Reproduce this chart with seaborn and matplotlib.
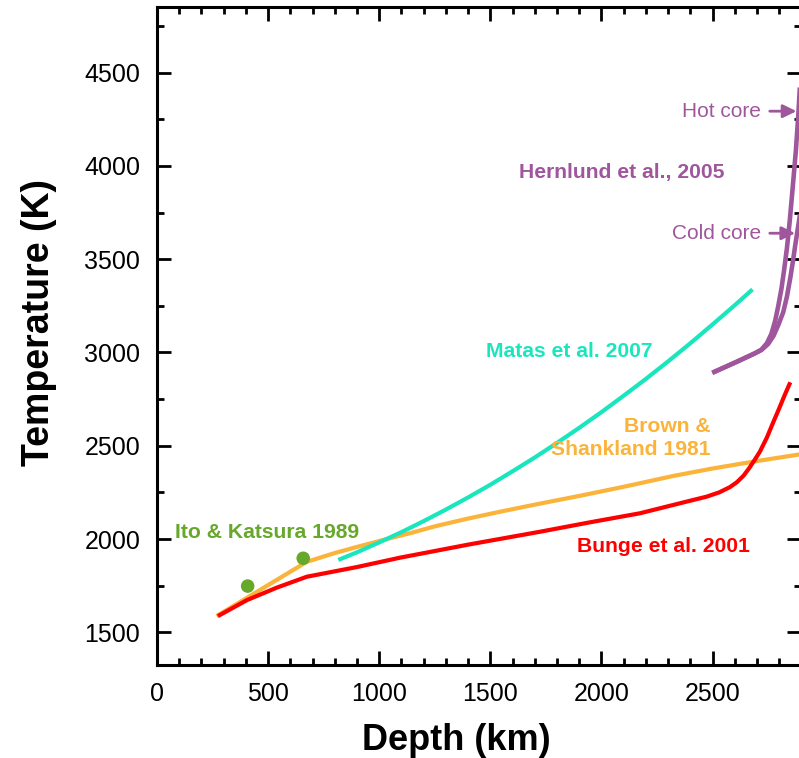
import matplotlib
matplotlib.use("Agg")
import matplotlib.pyplot as plt
from matplotlib.ticker import MultipleLocator
import seaborn as sns

# Mantle geotherms: depth (km) vs temperature (K)
bunge_depth = [274, 405, 540, 674, 900, 1093, 1400, 1723, 1950, 2173, 2398, 2473,
               2530, 2578, 2610, 2640, 2665, 2690, 2713, 2745, 2773, 2800, 2825, 2850]
bunge_temp = [1587, 1673, 1740, 1798, 1850, 1900, 1970, 2039, 2090, 2138, 2205, 2227,
              2250, 2278, 2305, 2340, 2380, 2425, 2468, 2545, 2625, 2700, 2772, 2840]

brown_depth = [268, 674, 800, 913, 1050, 1138, 1250, 1393, 1550, 1724, 1904, 2100,
               2323, 2500, 2700, 2900]
brown_temp = [1587, 1878, 1925, 1962, 2005, 2031, 2068, 2108, 2148, 2190, 2232, 2280,
              2338, 2378, 2418, 2455]

matas_depth = [816, 900, 1000, 1100, 1200, 1300, 1400, 1500, 1600, 1700, 1800, 1900,
               2000, 2100, 2200, 2300, 2400, 2500, 2600, 2680]
matas_temp = [1888, 1929, 1982, 2037, 2096, 2158, 2223, 2291, 2363, 2437, 2515, 2596,
              2680, 2768, 2858, 2952, 3049, 3150, 3253, 3338]

hern_hot_depth = [2499, 2609, 2690, 2720, 2745, 2765, 2782, 2796, 2810, 2822, 2835,
                  2848, 2862, 2875, 2886, 2893]
hern_hot_temp = [2891, 2950, 2995, 3015, 3050, 3100, 3170, 3250, 3340, 3440, 3560,
                 3710, 3900, 4080, 4270, 4420]

hern_cold_depth = [2499, 2609, 2690, 2720, 2750, 2775, 2797, 2818, 2835, 2850, 2862,
                   2873, 2886, 2898]
hern_cold_temp = [2891, 2950, 2995, 3013, 3045, 3090, 3150, 3215, 3300, 3400, 3490,
                  3580, 3680, 3775]

ito_depth = [408, 658]
ito_temp = [1748, 1897]

RED = "#FF0000"
ORANGE = "#FBB33A"
CYAN = "#1AE6BE"
PURPLE = "#A0569C"
GREEN = "#66A82A"

sns.set_style("ticks")
plt.rcParams["font.family"] = ["Liberation Sans", "DejaVu Sans"]

fig = plt.figure(figsize=(7.99, 7.58), dpi=100)
ax = fig.add_axes([157 / 799, (758 - 665) / 758, (801.4 - 157) / 799, (665 - 6.7) / 758])

line_kw = dict(ax=ax, estimator=None, sort=False,
               solid_capstyle="butt", solid_joinstyle="round")
sns.lineplot(x=brown_depth, y=brown_temp, color=ORANGE, linewidth=3.0, **line_kw)
sns.lineplot(x=bunge_depth, y=bunge_temp, color=RED, linewidth=3.0, **line_kw)
sns.lineplot(x=matas_depth, y=matas_temp, color=CYAN, linewidth=3.0, **line_kw)
sns.lineplot(x=hern_cold_depth, y=hern_cold_temp, color=PURPLE, linewidth=3.3, **line_kw)
sns.lineplot(x=hern_hot_depth, y=hern_hot_temp, color=PURPLE, linewidth=3.3, **line_kw)
sns.scatterplot(x=ito_depth, y=ito_temp, color=GREEN, s=95, marker="o",
                edgecolor="none", ax=ax, zorder=5)

ax.set_xlim(0, 2900)
ax.set_ylim(1325, 4853)
ax.xaxis.set_major_locator(MultipleLocator(500))
ax.xaxis.set_minor_locator(MultipleLocator(100))
ax.yaxis.set_major_locator(MultipleLocator(500))
ax.yaxis.set_minor_locator(MultipleLocator(250))
ax.set_yticks([1500, 2000, 2500, 3000, 3500, 4000, 4500])

ax.tick_params(which="both", direction="in", top=True, right=True, width=2,
               labelsize=18, colors="black", labelcolor="black", pad=12)
ax.tick_params(which="major", length=10)
ax.tick_params(which="minor", length=5)
for sp in ax.spines.values():
    sp.set_linewidth(2.2)
    sp.set_color("black")

ax.set_xlabel("Depth (km)", fontsize=26, fontweight="bold", color="black")
ax.set_ylabel("Temperature (K)", fontsize=27, fontweight="bold", color="black")
ax.xaxis.set_label_coords(0.464, -0.088)
ax.yaxis.set_label_coords(-0.155, 0.521)

lab_fs = 15.2
ax.text(81, 2037, "Ito & Katsura 1989", color=GREEN, fontsize=lab_fs,
        fontweight="bold", ha="left", va="center")
ax.text(2493, 2541, "Brown &\nShankland 1981", color=ORANGE, fontsize=lab_fs,
        fontweight="bold", ha="right", va="center", multialignment="right",
        linespacing=1.3)
ax.text(1890, 1962, "Bunge et al. 2001", color=RED, fontsize=lab_fs,
        fontweight="bold", ha="left", va="center")
ax.text(1480, 3007, "Matas et al. 2007", color=CYAN, fontsize=lab_fs,
        fontweight="bold", ha="left", va="center")
ax.text(1629, 3966, "Hernlund et al., 2005", color=PURPLE, fontsize=lab_fs,
        fontweight="bold", ha="left", va="center")

arrow = dict(arrowstyle="-|>,head_length=0.45,head_width=0.22", color=PURPLE,
             lw=2, shrinkA=4, shrinkB=0, mutation_scale=18)
ax.annotate("Hot core", xy=(2878, 4293), xytext=(2718, 4293), color=PURPLE,
            fontsize=15, ha="right", va="center", arrowprops=arrow)
ax.annotate("Cold core", xy=(2872, 3639), xytext=(2718, 3639), color=PURPLE,
            fontsize=15, ha="right", va="center", arrowprops=arrow)

fig.savefig("out.png", dpi=100)
